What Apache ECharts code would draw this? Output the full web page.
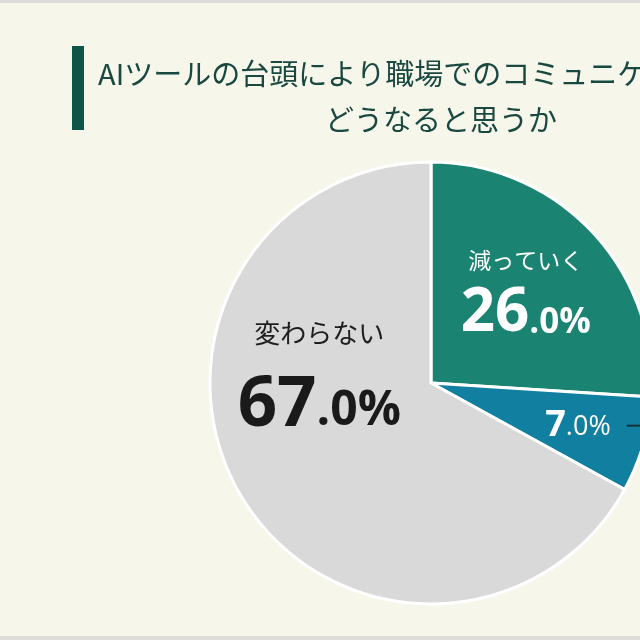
<!DOCTYPE html>
<html>
<head>
<meta charset="utf-8">
<script src="https://cdn.jsdelivr.net/npm/echarts@6/dist/echarts.min.js"></script>
<style>
  html, body { margin: 0; padding: 0; background: #DCDCDA; }
  #chart { position: absolute; left: 0; top: 3px; width: 640px; height: 633px; background: #F6F6EB; }
</style>
</head>
<body>
<div id="chart"></div>
<script>
// ---- data ----
const titleLine1 = 'AIツールの台頭により職場でのコミュニケーションは';
const titleLine2 = 'どうなると思うか';
const categories = ['減っていく', '増えていく', '変わらない'];
const values = [26.0, 7.0, 67.0];
const sliceColors = ['#1A8371', '#117F9F', '#D9D9D9'];

// ---- styling ----
const CJK = '"Noto Sans CJK JP", "Noto Sans", sans-serif';
const NUM = '"Open Sans", "Noto Sans", sans-serif';
const labelOffsets = [[12, -14], [56, 11], [-14, -67]];

function splitNum(v) {
  const s = v.toFixed(1);
  const i = s.indexOf('.');
  return [s.slice(0, i), s.slice(i) + '%'];
}

const chart = echarts.init(document.getElementById('chart'), null, { renderer: 'canvas' });

const data = categories.map((name, i) => {
  const [intPart, fracPart] = splitNum(values[i]);
  let label;
  if (i === 0) {
    label = {
      formatter: '{n|' + name + '}\n{b|' + intPart + '}{s|' + fracPart + '}',
      rich: {
        n: { fontFamily: CJK, fontSize: 23, color: '#FFFFFF', lineHeight: 44 },
        b: { fontFamily: NUM, fontSize: 60, fontWeight: 'bold', color: '#FFFFFF', lineHeight: 62, verticalAlign: 'bottom' },
        s: { fontFamily: NUM, fontSize: 35, fontWeight: 'bold', color: '#FFFFFF', lineHeight: 62, verticalAlign: 'bottom', padding: [0, 0, 4, 0] }
      }
    };
  } else if (i === 1) {
    label = {
      formatter: '{b|' + intPart + '}{s|' + fracPart + '}{g|}{d|}',
      rich: {
        b: { fontFamily: NUM, fontSize: 36, fontWeight: 'bold', color: '#FFFFFF', lineHeight: 40, verticalAlign: 'bottom', padding: [0, 0, 2, 0] },
        s: { fontFamily: NUM, fontSize: 27, fontWeight: 'normal', color: '#FFFFFF', lineHeight: 40, verticalAlign: 'bottom', padding: [0, 0, 5, 0] },
        g: { width: 16, height: 2 },
        d: { width: 20, height: 2, backgroundColor: '#16323A', verticalAlign: 'middle' }
      }
    };
  } else {
    label = {
      formatter: '{n|' + name + '}\n{b|' + intPart + '}{s|' + fracPart + '}',
      rich: {
        n: { fontFamily: CJK, fontSize: 26, color: '#1E1E1E', lineHeight: 52 },
        b: { fontFamily: NUM, fontSize: 69, fontWeight: 'bold', color: '#1A1A1A', lineHeight: 82, verticalAlign: 'bottom' },
        s: { fontFamily: NUM, fontSize: 48, fontWeight: 'bold', color: '#1A1A1A', lineHeight: 82, verticalAlign: 'bottom', padding: [0, 0, 5, 0] }
      }
    };
  }
  return { name, value: values[i], itemStyle: { color: sliceColors[i] }, label };
});

chart.setOption({
  backgroundColor: '#F6F6EB',
  animation: false,
  title: [
    {
      text: titleLine1, left: 98, top: 56, padding: 0,
      textStyle: { fontFamily: CJK, fontSize: 29, fontWeight: 'normal', color: '#184840' }
    },
    {
      text: titleLine2, left: 441, top: 102, padding: 0, textAlign: 'center',
      textStyle: { fontFamily: CJK, fontSize: 29, fontWeight: 'normal', color: '#184840' }
    }
  ],
  graphic: [
    { type: 'rect', left: 72, top: 43, shape: { width: 12, height: 84 }, style: { fill: '#0E5548' } }
  ],
  series: [{
    type: 'pie',
    center: [431, 380],
    radius: [0, 221],
    startAngle: 90,
    clockwise: true,
    silent: true,
    itemStyle: { borderColor: '#FFFFFF', borderWidth: 3 },
    label: { show: true, position: 'inside', align: 'center' },
    labelLine: { show: false },
    labelLayout: function (params) {
      const o = labelOffsets[params.dataIndex];
      return { dx: o[0], dy: o[1] };
    },
    data: data
  }]
});
</script>
</body>
</html>
